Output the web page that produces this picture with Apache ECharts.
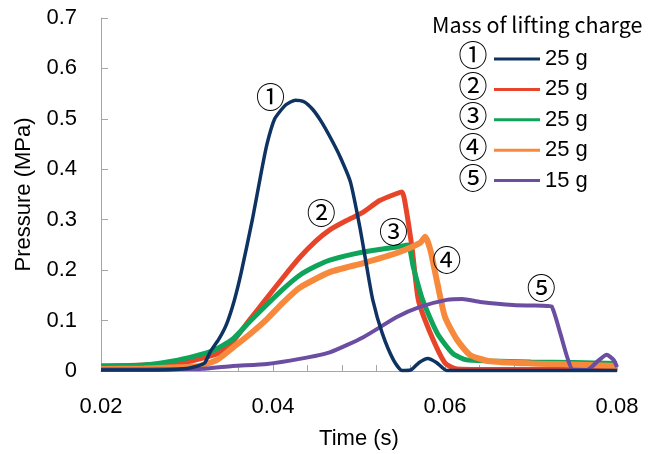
<!DOCTYPE html>
<html>
<head>
<meta charset="utf-8">
<script src="https://cdn.jsdelivr.net/npm/echarts@6/dist/echarts.min.js"></script>
<style>html,body{margin:0;padding:0;background:#fff}#c{width:660px;height:454px}</style>
</head>
<body>
<div id="c"></div>
<script>
// ---- data ----
const seriesMarks = ['①', '②', '③', '④', '⑤'];
const seriesMass = ['25 g', '25 g', '25 g', '25 g', '15 g'];
const legendTitle = 'Mass of lifting charge';
const xTickLabels = [0.02, 0.04, 0.06, 0.08];
const yTickLabels = [0, 0.1, 0.2, 0.3, 0.4, 0.5, 0.6, 0.7];

const time1 = [0.020, 0.025, 0.030, 0.0320, 0.0327, 0.0337, 0.0346, 0.0355, 0.0363, 0.0376, 0.0387, 0.0393, 0.0402, 0.0415, 0.0426, 0.0436, 0.0446, 0.0456, 0.0467, 0.0478, 0.0490, 0.0501, 0.0509, 0.0516, 0.0527, 0.0540, 0.0550, 0.0560, 0.0570, 0.0580, 0.0590, 0.0602, 0.065, 0.070, 0.075, 0.080];
const pressure1 = [0.002, 0.002, 0.005, 0.015, 0.038, 0.063, 0.093, 0.140, 0.195, 0.300, 0.400, 0.450, 0.500, 0.528, 0.537, 0.534, 0.519, 0.495, 0.462, 0.425, 0.375, 0.285, 0.207, 0.141, 0.075, 0.022, 0.001, 0.002, 0.017, 0.025, 0.017, 0.001, 0.001, 0.001, 0.001, 0.001];

const time2 = [0.020, 0.025, 0.030, 0.0315, 0.0335, 0.0353, 0.0373, 0.0393, 0.0412, 0.0431, 0.0450, 0.0466, 0.0485, 0.0505, 0.0524, 0.0544, 0.0550, 0.0553, 0.0562, 0.0569, 0.0583, 0.0600, 0.0614, 0.065, 0.070, 0.075, 0.080];
const pressure2 = [0.010, 0.012, 0.018, 0.024, 0.034, 0.058, 0.102, 0.145, 0.186, 0.225, 0.258, 0.280, 0.298, 0.315, 0.338, 0.352, 0.355, 0.339, 0.240, 0.141, 0.075, 0.016, 0.004, 0.003, 0.003, 0.003, 0.003];

const time3 = [0.020, 0.025, 0.0284, 0.0310, 0.0330, 0.0353, 0.0373, 0.0393, 0.0412, 0.0431, 0.0450, 0.0466, 0.0505, 0.0544, 0.0557, 0.0563, 0.0574, 0.0591, 0.0609, 0.0625, 0.065, 0.070, 0.075, 0.080];
const pressure3 = [0.010, 0.012, 0.020, 0.030, 0.040, 0.063, 0.098, 0.132, 0.163, 0.190, 0.208, 0.220, 0.236, 0.246, 0.250, 0.207, 0.141, 0.075, 0.035, 0.022, 0.020, 0.018, 0.017, 0.015];

const time4 = [0.020, 0.025, 0.030, 0.0315, 0.0335, 0.0353, 0.0373, 0.0393, 0.0412, 0.0431, 0.0466, 0.0505, 0.0544, 0.0571, 0.0577, 0.0583, 0.0591, 0.0600, 0.0614, 0.0629, 0.065, 0.070, 0.075, 0.080];
const pressure4 = [0.004, 0.005, 0.008, 0.010, 0.022, 0.046, 0.073, 0.103, 0.136, 0.165, 0.196, 0.214, 0.234, 0.254, 0.266, 0.240, 0.175, 0.107, 0.062, 0.032, 0.020, 0.015, 0.013, 0.010];

const time5 = [0.020, 0.025, 0.030, 0.0315, 0.0353, 0.0393, 0.0431, 0.0466, 0.0505, 0.0544, 0.0571, 0.0602, 0.0620, 0.0641, 0.0679, 0.0719, 0.0724, 0.0734, 0.0742, 0.0749, 0.0765, 0.0778, 0.0788, 0.0796, 0.080];
const pressure5 = [0.003, 0.003, 0.004, 0.004, 0.010, 0.014, 0.024, 0.037, 0.067, 0.107, 0.127, 0.141, 0.143, 0.137, 0.131, 0.129, 0.128, 0.075, 0.028, 0.002, 0.002, 0.020, 0.032, 0.022, 0.008];

// label anchor positions (time, pressure) for the circled numbers near the curves
const markTime = [0.0397, 0.0456, 0.0540, 0.0602, 0.0712];
const markPressure = [0.544, 0.313, 0.276, 0.220, 0.165];

// ---- styling ----
const colors = ['#0e3362', '#e8442a', '#10a35a', '#f6893b', '#6b4ea2'];
const widths = [3.5, 5, 5, 6, 4];
const zs = [6, 2, 3, 4, 5];
const times = [time1, time2, time3, time4, time5];
const pressures = [pressure1, pressure2, pressure3, pressure4, pressure5];
const axisGrey = '#a6a6a6';
const cjk = '"Noto Sans CJK JP", "Noto Sans", sans-serif';
const sans = '"Liberation Sans", Arial, sans-serif';

const chart = echarts.init(document.getElementById('c'), null, {renderer: 'canvas'});

const series = times.map((t, i) => ({
  name: seriesMarks[i],
  type: 'line',
  data: t.map((x, k) => [x, pressures[i][k]]),
  showSymbol: false,
  symbol: 'none',
  smooth: 0.2,
  z: zs[i],
  color: colors[i],
  lineStyle: {color: colors[i], width: widths[i]},
  animation: false,
  markPoint: {
    symbol: 'circle',
    symbolSize: 0,
    silent: true,
    animation: false,
    label: {show: true, position: 'inside', formatter: seriesMarks[i], color: '#000', fontFamily: cjk, fontSize: 29},
    data: [{coord: [markTime[i], markPressure[i]], value: seriesMarks[i]}]
  }
}));

const findTick = (arr, v) => arr.find(l => Math.abs(l - v) < 1e-9);

chart.setOption({
  animation: false,
  backgroundColor: '#fff',
  grid: {left: 101, right: 43, top: 18, bottom: 83, containLabel: false, outerBoundsMode: 'none'},
  xAxis: {
    type: 'value', min: 0.02, max: 0.08, interval: 0.004,
    name: 'Time (s)', nameLocation: 'middle', nameGap: 57,
    nameTextStyle: {fontFamily: sans, fontSize: 22, color: '#000'},
    axisLine: {show: true, onZero: false, lineStyle: {color: axisGrey, width: 1}},
    axisTick: {show: true, inside: true, length: 6, lineStyle: {color: axisGrey}},
    axisLabel: {
      margin: 25, fontFamily: sans, fontSize: 22, color: '#000',
      showMinLabel: true, showMaxLabel: true, hideOverlap: false,
      formatter: v => { const f = findTick(xTickLabels, v); return f === undefined ? '' : f.toFixed(2); }
    },
    splitLine: {show: false}
  },
  yAxis: {
    type: 'value', min: 0, max: 0.7, interval: 0.1,
    name: 'Pressure (MPa)', nameLocation: 'middle', nameGap: 66,
    nameTextStyle: {fontFamily: sans, fontSize: 22, color: '#000'},
    axisLine: {show: true, lineStyle: {color: axisGrey, width: 1}},
    axisTick: {show: true, inside: true, length: 7, lineStyle: {color: axisGrey}},
    axisLabel: {
      margin: 24, fontFamily: sans, fontSize: 22, color: '#000',
      formatter: v => { const f = findTick(yTickLabels, v); return f === undefined ? '' : String(f); }
    },
    splitLine: {show: false}
  },
  legend: {
    orient: 'vertical', left: 489, top: 43,
    itemWidth: 46, itemHeight: 3, itemGap: 8.4,
    data: seriesMarks.map(m => ({name: m, icon: 'rect'})),
    formatter: name => seriesMass[seriesMarks.indexOf(name)],
    textStyle: {fontFamily: sans, fontSize: 22, color: '#000'},
    selectedMode: false
  },
  graphic: [
    {type: 'text', left: 432, top: 14, style: {text: legendTitle, fontFamily: cjk, fontSize: 21.5, fill: '#000'}},
    ...seriesMarks.map((m, i) => ({
      type: 'text', x: 473, y: 55 + i * 30.7,
      style: {text: m, fontFamily: cjk, fontSize: 29, fill: '#000', align: 'center', verticalAlign: 'middle'}
    }))
  ],
  series: series
});
</script>
</body>
</html>
